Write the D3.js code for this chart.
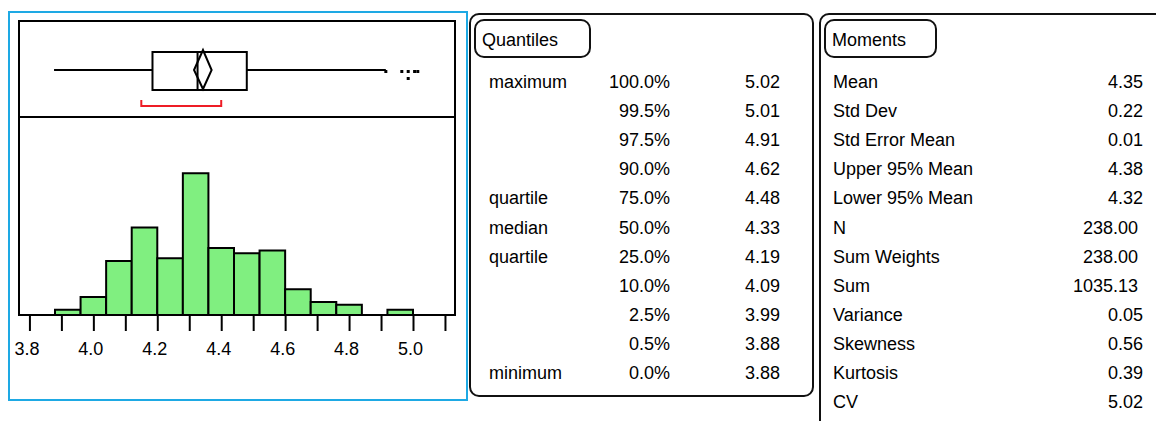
<!DOCTYPE html>
<html>
<head>
<meta charset="utf-8">
<script src="https://cdn.jsdelivr.net/npm/d3@7"></script>
<style>
  body { margin: 0; background: #fff; }
  svg { display: block; font-family: "Liberation Sans", Arial, sans-serif; }
</style>
</head>
<body>
<div id="chart"></div>
<script>
// histogram bins (lower edge of each bar) and counts
const binStarts = [3.88, 3.96, 4.04, 4.12, 4.20, 4.28, 4.36, 4.44, 4.52, 4.60, 4.68, 4.76, 4.84, 4.92];
const binWidth = 0.08;
const binCounts = [2, 7, 21, 34, 22, 55, 26, 24, 25, 10, 5, 4, 0, 2];

// outlier box plot
const whiskerEnds = [3.877, 4.915];
const boxQuartiles = [4.185, 4.326, 4.48];
const meanDiamond = [4.315, 4.343, 4.37];
const shortestHalf = [4.15, 4.40];
const outlierPoints = [4.915, 4.965, 4.985, 4.985, 5.005, 5.015];

// x axis
const axisTicks = [3.8, 3.9, 4.0, 4.1, 4.2, 4.3, 4.4, 4.5, 4.6, 4.7, 4.8, 4.9, 5.0, 5.1];
const axisLabels = [3.8, 4.0, 4.2, 4.4, 4.6, 4.8, 5.0];

// quantiles table
const quantileNames = ['maximum', '', '', '', 'quartile', 'median', 'quartile', '', '', '', 'minimum'];
const quantileLevels = ['100.0%', '99.5%', '97.5%', '90.0%', '75.0%', '50.0%', '25.0%', '10.0%', '2.5%', '0.5%', '0.0%'];
const quantileValues = ['5.02', '5.01', '4.91', '4.62', '4.48', '4.33', '4.19', '4.09', '3.99', '3.88', '3.88'];

// moments table
const momentNames = ['Mean', 'Std Dev', 'Std Error Mean', 'Upper 95% Mean', 'Lower 95% Mean', 'N',
    'Sum Weights', 'Sum', 'Variance', 'Skewness', 'Kurtosis', 'CV'];
const momentValues = ['4.35', '0.22', '0.01', '4.38', '4.32', '238.00\u00a0', '238.00\u00a0', '1035.13\u00a0',
    '0.05', '0.56', '0.39', '5.02'];

let width = 1156;
let height = 421;
let fontSize = 18;
let rowTop = 88;
let rowStep = 29.1;

let svg = d3.select('#chart').append('svg')
    .attr('width', width)
    .attr('height', height);

// ---------- distribution plot ----------
let xScale = d3.scaleLinear()
    .domain([3.88, 5.0])
    .range([55, 413]);

let yScale = d3.scaleLinear()
    .domain([0, 76.5])
    .range([315, 118]);

svg.append('rect')
    .attr('x', 9).attr('y', 12)
    .attr('width', 458).attr('height', 388)
    .attr('fill', 'none')
    .attr('stroke', '#1ea9e4')
    .attr('stroke-width', 2);

let bins = binStarts.map((start, i) => ({ x0: start, x1: start + binWidth, count: binCounts[i] }));

svg.append('g').attr('class', 'bars')
    .selectAll('path').data(bins).enter().append('path')
    .attr('d', d => 'M' + xScale(d.x0) + ',' + yScale(0) + 'V' + yScale(d.count) +
        'H' + xScale(d.x1) + 'V' + yScale(0) + 'Z')
    .attr('fill', '#80ef80')
    .attr('stroke', '#000')
    .attr('stroke-width', 2);

// frame round both panels
svg.append('rect')
    .attr('x', 19).attr('y', 21)
    .attr('width', 436).attr('height', 294)
    .attr('fill', 'none')
    .attr('stroke', '#000')
    .attr('stroke-width', 2);

svg.append('line')
    .attr('x1', 19).attr('x2', 455)
    .attr('y1', 117).attr('y2', 117)
    .attr('stroke', '#000')
    .attr('stroke-width', 2);

let xAxis = svg.append('g').attr('class', 'x-axis')
    .attr('transform', 'translate(0, 316)')
    .call(d3.axisBottom(xScale)
        .tickValues(axisTicks)
        .tickSize(15)
        .tickPadding(11)
        .tickFormat(d => axisLabels.some(v => Math.abs(v - d) < 1e-9) ? d3.format('.1f')(d) : ''));

xAxis.select('.domain').remove();
xAxis.selectAll('.tick line').attr('stroke', '#000').attr('stroke-width', 2);
xAxis.selectAll('.tick text')
    .attr('fill', '#000')
    .attr('dx', -3)
    .style('font-size', fontSize + 'px')
    .style('font-family', '"Liberation Sans", Arial, sans-serif');

// box plot
let box = svg.append('g').attr('class', 'box-plot');
let midY = 70;

box.append('line')
    .attr('x1', xScale(whiskerEnds[0])).attr('x2', xScale(boxQuartiles[0]))
    .attr('y1', midY).attr('y2', midY)
    .attr('stroke', '#000').attr('stroke-width', 2);

box.append('line')
    .attr('x1', xScale(boxQuartiles[2])).attr('x2', xScale(whiskerEnds[1]))
    .attr('y1', midY).attr('y2', midY)
    .attr('stroke', '#000').attr('stroke-width', 2);

box.append('rect')
    .attr('x', xScale(boxQuartiles[0])).attr('y', 52)
    .attr('width', xScale(boxQuartiles[2]) - xScale(boxQuartiles[0]))
    .attr('height', 38)
    .attr('fill', 'none')
    .attr('stroke', '#000').attr('stroke-width', 2);

box.append('line')
    .attr('x1', xScale(boxQuartiles[1])).attr('x2', xScale(boxQuartiles[1]))
    .attr('y1', 52).attr('y2', 90)
    .attr('stroke', '#000').attr('stroke-width', 2);

box.append('path')
    .attr('d', 'M' + xScale(meanDiamond[0]) + ',' + midY +
        'L' + xScale(meanDiamond[1]) + ',50' +
        'L' + xScale(meanDiamond[2]) + ',' + midY +
        'L' + xScale(meanDiamond[1]) + ',89Z')
    .attr('fill', 'none')
    .attr('stroke', '#000').attr('stroke-width', 2);

box.append('path')
    .attr('d', 'M' + xScale(shortestHalf[0]) + ',100V106H' + xScale(shortestHalf[1]) + 'V100')
    .attr('fill', 'none')
    .attr('stroke', '#ee1c25').attr('stroke-width', 2);

// stack repeated outliers downward
let outliers = outlierPoints.map((v, i) => ({ value: v, level: outlierPoints.slice(0, i).filter(p => p === v).length }));

box.selectAll('rect.outlier').data(outliers).enter().append('rect')
    .attr('class', 'outlier')
    .attr('x', d => xScale(d.value) - 1.5)
    .attr('y', d => midY + d.level * 7)
    .attr('width', 3)
    .attr('height', 3)
    .attr('fill', '#000');

// ---------- report tables ----------
function drawPanel(x, y, w, h, title, titleWidth) {
    let g = svg.append('g');
    g.append('rect')
        .attr('x', x).attr('y', y)
        .attr('width', w).attr('height', h)
        .attr('rx', 9)
        .attr('fill', 'none')
        .attr('stroke', '#111').attr('stroke-width', 2);
    g.append('rect')
        .attr('x', x + 5).attr('y', y + 6)
        .attr('width', titleWidth).attr('height', 37)
        .attr('rx', 9)
        .attr('fill', 'none')
        .attr('stroke', '#111').attr('stroke-width', 2);
    g.append('text')
        .attr('x', x + 12).attr('y', y + 32)
        .style('font-size', fontSize + 'px')
        .text(title);
    return g;
}

let quantiles = drawPanel(470, 14, 343, 382, 'Quantiles', 115);

quantiles.selectAll('text.name').data(quantileNames).enter().append('text')
    .attr('class', 'name')
    .attr('x', 489)
    .attr('y', (d, i) => rowTop + i * rowStep)
    .style('font-size', fontSize + 'px')
    .text(d => d);

quantiles.selectAll('text.level').data(quantileLevels).enter().append('text')
    .attr('class', 'level')
    .attr('x', 670)
    .attr('y', (d, i) => rowTop + i * rowStep)
    .attr('text-anchor', 'end')
    .style('font-size', fontSize + 'px')
    .text(d => d);

quantiles.selectAll('text.value').data(quantileValues).enter().append('text')
    .attr('class', 'value')
    .attr('x', 780)
    .attr('y', (d, i) => rowTop + i * rowStep)
    .attr('text-anchor', 'end')
    .style('font-size', fontSize + 'px')
    .text(d => d);

let moments = drawPanel(820, 14, 360, 430, 'Moments', 111);

moments.selectAll('text.name').data(momentNames).enter().append('text')
    .attr('class', 'name')
    .attr('x', 833)
    .attr('y', (d, i) => rowTop + i * rowStep)
    .style('font-size', fontSize + 'px')
    .text(d => d);

moments.selectAll('text.value').data(momentValues).enter().append('text')
    .attr('class', 'value')
    .attr('x', 1143)
    .attr('y', (d, i) => rowTop + i * rowStep)
    .attr('text-anchor', 'end')
    .style('font-size', fontSize + 'px')
    .text(d => d);
</script>
</body>
</html>
